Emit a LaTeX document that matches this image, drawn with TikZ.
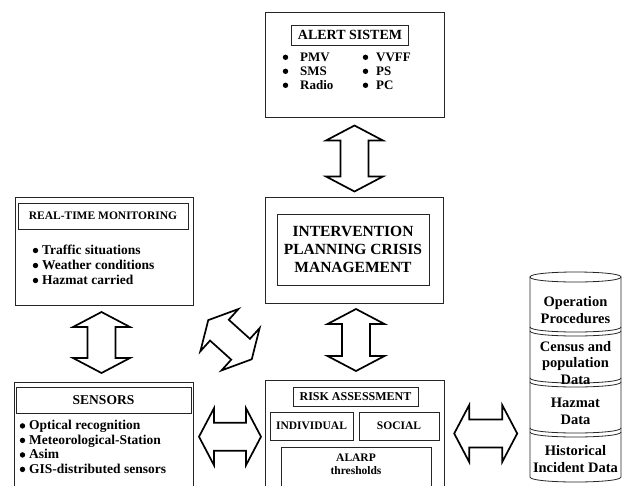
\documentclass[tikz,border=0pt]{standalone}
\usepackage{fontspec}
\setmainfont{Liberation Serif}
\newcommand\ft[2]{\fontsize{#1}{#2}\selectfont\bfseries}
\tikzset{
  box/.style={draw=black!85, line width=0.8pt, inner sep=0pt, anchor=north west},
  tbox/.style={draw=black!85, line width=0.8pt, inner sep=0pt, anchor=center, align=center},
  item/.style={anchor=base west, inner sep=0pt},
  dot/.style={fill=black},
  arrowline/.style={draw=black, line width=1.7pt, line join=miter},
  pics/dblarrow/.style={code={
    \draw[arrowline] (-#1,0) -- ({-#1+15},28.5) -- ({-#1+15},14) -- ({#1-15},14)
      -- ({#1-15},28.5) -- (#1,0) -- ({#1-15},-28.5) -- ({#1-15},-14)
      -- ({-#1+15},-14) -- ({-#1+15},-28.5) -- cycle;}},
  dbline/.style={draw=black!85, line width=0.8pt},
}
\begin{document}
\begin{tikzpicture}[x=1pt,y=-1pt]
\useasboundingbox (0,0) rectangle (623,485);

% ALERT SISTEM
\node[box, minimum width=179, minimum height=105] (alert) at (265,12) {};
\node[tbox, minimum width=117, minimum height=20, font=\ft{14}{16}] (alerttitle) at (350,35) {ALERT SISTEM};
\foreach \t [count=\i] in {PMV,SMS,Radio}{
  \fill[dot] (285.5,{61.3+14*(\i-1)-4}) circle (2.7);
  \node[item, font=\ft{13}{14}] (alertA\i) at (300,{61.3+14*(\i-1)}) {\t};
}
\foreach \t [count=\i] in {VVFF,PS,PC}{
  \fill[dot] (365.5,{61.3+14*(\i-1)-4}) circle (2.7);
  \node[item, font=\ft{13}{14}] (alertB\i) at (376,{61.3+14*(\i-1)}) {\t};
}

% INTERVENTION
\node[box, minimum width=178, minimum height=106] (interv) at (265,197) {};
\node[tbox, minimum width=152, minimum height=71, font=\ft{15.5}{18}] (intervtitle) at (353,249.5) {INTERVENTION\\PLANNING CRISIS\\MANAGEMENT};

% REAL-TIME MONITORING
\node[box, minimum width=178, minimum height=108] (rtm) at (15,197) {};
\node[tbox, minimum width=170, minimum height=26, font=\ft{11.5}{13}] (rtmtitle) at (103,216) {REAL-TIME MONITORING};
\foreach \t [count=\i] in {Traffic situations,Weather conditions,Hazmat carried}{
  \fill[dot] (35.5,{254.5+15*(\i-1)-4}) circle (2.7);
  \node[item, font=\ft{13.5}{15}] (rtm\i) at (42,{254.5+15*(\i-1)}) {\t};
}

% SENSORS
\node[box, minimum width=179, minimum height=110] (sens) at (14,382) {};
\node[tbox, minimum width=175, minimum height=26, font=\ft{13.5}{15}] (senstitle) at (103.5,400) {SENSORS};
\foreach \t [count=\i] in {Optical recognition,Meteorological-Station,Asim,GIS-distributed sensors}{
  \fill[dot] (22.5,{429.9+14.5*(\i-1)-4}) circle (2.7);
  \node[item, font=\ft{13.5}{14.5}] (sens\i) at (29,{429.9+14.5*(\i-1)}) {\t};
}

% RISK ASSESSMENT
\node[box, minimum width=179, minimum height=110] (risk) at (265,380) {};
\node[tbox, minimum width=125, minimum height=19, font=\ft{12}{14}] (risktitle) at (355.5,396.5) {RISK ASSESSMENT};
\node[tbox, minimum width=83, minimum height=28, font=\ft{11.5}{13}] (indiv) at (311.5,426) {INDIVIDUAL};
\node[tbox, minimum width=80, minimum height=28, font=\ft{11.5}{13}] (social) at (399,426) {SOCIAL};
\node[box, minimum width=150, minimum height=45] (alarpbox) at (281,447) {};
\node[align=center, inner sep=0pt, font=\ft{11.5}{13}] (alarp) at (356,464.5) {ALARP\\thresholds};

% Database
\path[dbline] (530,277) .. controls (530,283.67) and (621,283.67) .. (621,277)
  .. controls (621,270.33) and (530,270.33) .. (530,277) -- cycle;
\draw[dbline] (530,277) -- (530,477) .. controls (530,483.67) and (621,483.67) .. (621,477) -- (621,277);
\foreach \yy in {327,378,428}{
  \draw[dbline] (530,\yy) .. controls (530,{\yy+6.67}) and (621,{\yy+6.67}) .. (621,\yy);
  \draw[dbline] (530,{\yy+4}) .. controls (530,{\yy+10.67}) and (621,{\yy+10.67}) .. (621,{\yy+4});
}
\node[align=center, inner sep=0pt, font=\ft{14.5}{16.5}] (db1) at (575.5,310) {Operation\\Procedures};
\node[align=center, inner sep=0pt, font=\ft{14.5}{16.5}] (db2) at (575.5,363) {Census and\\population\\Data};
\node[align=center, inner sep=0pt, font=\ft{14.5}{16.5}] (db3) at (575.5,411.5) {Hazmat\\Data};
\node[align=center, inner sep=0pt, font=\ft{14.5}{16.5}] (db4) at (575.5,459) {Historical\\Incident Data};

% Block arrows
\pic[rotate=90] (a1) at (354.5,158.5) {dblarrow=33};
\pic[rotate=90] (a2) at (356,340) {dblarrow=31};
\pic[rotate=90] (a3) at (101.5,342.5) {dblarrow=30.5};
\pic[rotate=-42] (a4) at (230,339.7) {dblarrow=29.25};
\pic (a5) at (230,436.7) {dblarrow=31};
\pic (a6) at (485.7,433.5) {dblarrow=31.5};
\end{tikzpicture}
\end{document}
